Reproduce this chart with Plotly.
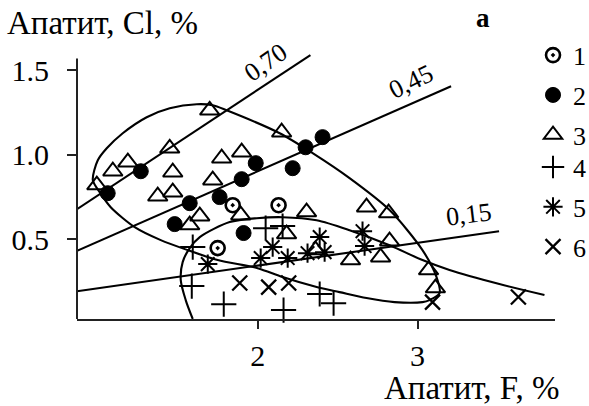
import plotly.graph_objects as go

# ---------------- data ----------------
series_names = ["1", "2", "3", "4", "5", "6"]

s1_x = [1.844, 1.75, 2.131]
s1_y = [0.701, 0.447, 0.701]

s2_x = [1.062, 1.269, 1.575, 1.762, 1.90, 1.988, 1.481, 1.912, 2.219, 2.30, 2.406]
s2_y = [0.772, 0.902, 0.713, 0.749, 0.855, 0.950, 0.589, 0.536, 0.920, 1.044, 1.104]

s3_x = [0.994, 1.094, 1.188, 1.45, 1.469, 1.375, 1.469, 1.638, 1.575, 1.70, 1.775, 1.90,
        1.719, 1.894, 2.15, 2.306, 2.681, 2.819, 2.181, 2.362, 2.825, 2.581, 2.769, 3.069, 3.112]
s3_y = [0.820, 0.902, 0.956, 1.038, 0.896, 0.754, 0.778, 0.636, 0.583, 1.263, 0.979, 1.015,
        0.849, 0.642, 1.133, 0.660, 0.689, 0.654, 0.530, 0.435, 0.488, 0.376, 0.393, 0.317, 0.210]

s4_x = [1.594, 2.05, 2.156, 1.588, 1.788, 2.162, 2.388, 2.475]
s4_y = [0.453, 0.565, 0.577, 0.222, 0.115, 0.080, 0.175, 0.121]

s5_x = [1.688, 2.094, 2.019, 2.188, 2.312, 2.419, 2.388, 2.656, 2.669]
s5_y = [0.352, 0.453, 0.388, 0.388, 0.417, 0.423, 0.512, 0.547, 0.459]

s6_x = [1.888, 2.069, 2.194, 3.094, 3.631]
s6_y = [0.240, 0.216, 0.240, 0.127, 0.157]

# closed field (upper)
fieldA_x = [0.969, 1.0, 1.056, 1.156, 1.306, 1.45, 1.619, 1.719, 1.806, 2.138, 2.344, 2.575,
            2.825, 3.031, 3.119, 3.138, 3.075, 3.031, 2.856, 2.681, 2.512, 2.369, 2.156, 2.0,
            1.75, 1.562, 1.394, 1.231, 1.081, 1.012, 0.969]
fieldA_y = [0.849, 0.967, 1.038, 1.127, 1.222, 1.275, 1.299, 1.293, 1.263, 1.127, 1.009, 0.861,
            0.672, 0.435, 0.275, 0.180, 0.139, 0.127, 0.127, 0.151, 0.186, 0.216, 0.275, 0.328,
            0.376, 0.435, 0.494, 0.571, 0.689, 0.778, 0.849]

# open field (lower)
fieldB_x = [1.594, 1.55, 1.519, 1.531, 1.575, 1.638, 1.825, 1.994, 2.156, 2.369, 2.575,
            2.825, 3.031, 3.20, 3.512, 3.794]
fieldB_y = [0.027, 0.139, 0.257, 0.364, 0.447, 0.512, 0.601, 0.624, 0.630, 0.612, 0.553,
            0.464, 0.376, 0.317, 0.234, 0.169]

# straight lines with labels
line_labels = ["0,70", "0,45", "0,15"]
line_x = [[0.87, 2.33], [0.87, 3.21], [0.87, 3.51]]
line_y = [[0.677, 1.590], [0.431, 1.405], [0.191, 0.547]]
label_x = [2.05, 2.96, 3.32]
label_y = [1.545, 1.435, 0.645]
label_angle = [-35, -26, -7]

x_ticks = [2, 3]
x_ticktext = ["2", "3"]
y_ticks = [0.5, 1.0, 1.5]
y_ticktext = ["0.5", "1.0", "1.5"]

x_title = "Апатит, F, %"
y_title = "Апатит, Cl, %"
panel_label = "а"

# ---------------- figure ----------------
FONT = "Liberation Serif, Times New Roman, serif"
fig = go.Figure()

curve_style = dict(color="black", width=2.1)
fig.add_trace(go.Scatter(x=fieldA_x, y=fieldA_y, mode="lines",
                         line=dict(shape="spline", smoothing=0.8, **curve_style),
                         showlegend=False, hoverinfo="skip"))
fig.add_trace(go.Scatter(x=fieldB_x, y=fieldB_y, mode="lines",
                         line=dict(shape="spline", smoothing=0.8, **curve_style),
                         showlegend=False, hoverinfo="skip"))
for lx, ly in zip(line_x, line_y):
    fig.add_trace(go.Scatter(x=lx, y=ly, mode="lines", line=curve_style,
                             showlegend=False, hoverinfo="skip"))

markers = [
    (s1_x, s1_y, dict(symbol="circle-open-dot", size=14, color="black", line=dict(width=2.6, color="black"))),
    (s2_x, s2_y, dict(symbol="circle", size=15, color="black", line=dict(width=1, color="black"))),
    (s3_x, s3_y, dict(symbol="triangle-up-open", size=17, color="black", line=dict(width=2, color="black"))),
    (s4_x, s4_y, dict(symbol="cross-thin-open", size=18, color="black", line=dict(width=2, color="black"))),
    (s5_x, s5_y, dict(symbol="asterisk-open", size=16, color="black", line=dict(width=2, color="black"))),
    (s6_x, s6_y, dict(symbol="x-thin-open", size=15, color="black", line=dict(width=2.3, color="black"))),
]
legend_of = ["legend", "legend", "legend", "legend2", "legend2", "legend2"]
for name, (xs, ys, mk), lg in zip(series_names, markers, legend_of):
    fig.add_trace(go.Scatter(x=xs, y=ys, mode="markers", name=name, marker=mk,
                             legendgroup=name, legend=lg, cliponaxis=False))

for t, x, y, a in zip(line_labels, label_x, label_y, label_angle):
    fig.add_annotation(x=x, y=y, xref="x", yref="y", text=t, showarrow=False, textangle=a,
                       font=dict(family=FONT, size=26, color="black"))

fig.add_annotation(x=-0.15, y=1.10, xref="paper", yref="paper", text=y_title, showarrow=False,
                   xanchor="left", yanchor="middle", font=dict(family=FONT, size=33, color="black"))
fig.add_annotation(x=1.015, y=-0.255, xref="paper", yref="paper", text=x_title, showarrow=False,
                   xanchor="right", yanchor="middle", font=dict(family=FONT, size=33, color="black"))
fig.add_annotation(x=0.85, y=1.119, xref="paper", yref="paper", text="<b>" + panel_label + "</b>",
                   showarrow=False, xanchor="center", yanchor="middle",
                   font=dict(family=FONT, size=27, color="black"))

# y axis line (stops below the top of the range)
fig.add_shape(type="line", xref="paper", x0=0, x1=0, yref="y", y0=0.027, y1=1.57,
              line=dict(color="#222", width=2))

legend_common = dict(xanchor="left", yanchor="top", font=dict(family=FONT, size=26),
                     tracegroupgap=3, bgcolor="rgba(0,0,0,0)", itemwidth=30)
fig.update_layout(
    width=589, height=406,
    margin=dict(l=77, r=34, t=50, b=87, autoexpand=False),
    paper_bgcolor="white", plot_bgcolor="white",
    font=dict(family=FONT, color="black"),
    legend=dict(x=0.954, y=1.068, **legend_common),
    legend2=dict(x=0.954, y=0.652, **legend_common),
    xaxis=dict(range=[0.87, 3.86], showgrid=False, zeroline=False, showline=True, linecolor="#222",
               linewidth=2, ticks="outside", ticklen=8, tickwidth=1.5, tickcolor="#222",
               tickvals=x_ticks, ticktext=x_ticktext, tickfont=dict(family=FONT, size=30),
               ticklabelstandoff=1),
    yaxis=dict(range=[0.027, 1.62], showgrid=False, zeroline=False, showline=False,
               ticks="outside", ticklen=9, tickwidth=1.5, tickcolor="#222",
               tickvals=y_ticks, ticktext=y_ticktext, tickfont=dict(family=FONT, size=30),
               ticklabelstandoff=12),
)

fig.write_html("out.html")
